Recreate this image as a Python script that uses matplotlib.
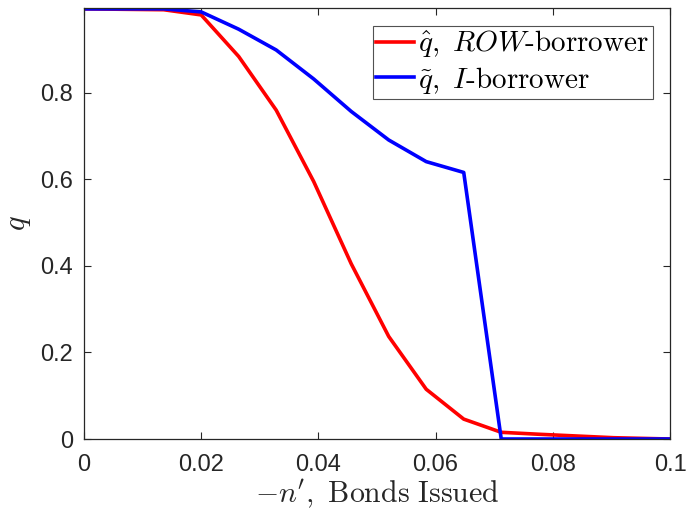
import matplotlib
matplotlib.use("Agg")
import matplotlib.pyplot as plt

x = [0.0, 0.0136, 0.02, 0.0264, 0.0328, 0.0392, 0.0456, 0.052, 0.0584, 0.0648,
     0.0712, 0.0776, 0.084, 0.0904, 0.0968, 0.1]
q_row = [0.994, 0.992, 0.980, 0.884, 0.760, 0.595, 0.405, 0.237, 0.115, 0.046,
         0.0155, 0.011, 0.007, 0.003, 0.001, 0.0]
q_i = [0.994, 0.994, 0.987, 0.947, 0.899, 0.832, 0.757, 0.691, 0.641, 0.616,
       0.0, 0.0, 0.0, 0.0, 0.0, 0.0]

xticks = [0, 0.02, 0.04, 0.06, 0.08, 0.1]
xticklabels = ["0", "0.02", "0.04", "0.06", "0.08", "0.1"]
yticks = [0, 0.2, 0.4, 0.6, 0.8]
yticklabels = ["0", "0.2", "0.4", "0.6", "0.8"]

plt.rcParams['mathtext.fontset'] = 'cm'
plt.rcParams['font.family'] = ['Liberation Sans', 'DejaVu Sans']

fig = plt.figure(figsize=(6.86, 5.16), dpi=100)
ax = fig.add_axes([0.1224, 0.1492, 0.8543, 0.8353])
dark = '#262626'
ax.plot(x, q_row, color='#ff0000', lw=2.6, label=r'$\hat{q},\ ROW\mathrm{\text{-}borrower}$')
ax.plot(x, q_i, color='#0000ff', lw=2.6, label=r'$\tilde{q},\ I\mathrm{\text{-}borrower}$')
ax.set_xlim(0, 0.1)
ax.set_ylim(0, 0.996)
ax.set_xticks(xticks)
ax.set_xticklabels(xticklabels)
ax.set_yticks(yticks)
ax.set_yticklabels(yticklabels)
ax.tick_params(direction='in', top=True, right=True, length=5, width=0.8,
               labelsize=17, colors=dark)
ax.tick_params(axis='x', pad=11)
ax.tick_params(axis='y', pad=8)
for s in ax.spines.values():
    s.set_color(dark)
    s.set_linewidth(0.9)
ax.set_xlabel(r"$-n',\ \mathrm{Bonds\ Issued}$", fontsize=21.5, color=dark, labelpad=1)
ax.set_ylabel(r"$q$", fontsize=22, color=dark, labelpad=5)
leg = ax.legend(loc='upper right', bbox_to_anchor=(0.971, 0.959), fontsize=21,
                frameon=True, fancybox=False, edgecolor=dark, handlelength=1.3,
                handletextpad=0.15, borderpad=0.12, labelspacing=0.15, borderaxespad=0.0)
leg.get_frame().set_linewidth(0.8)
fig.savefig("out.png", dpi=100)
